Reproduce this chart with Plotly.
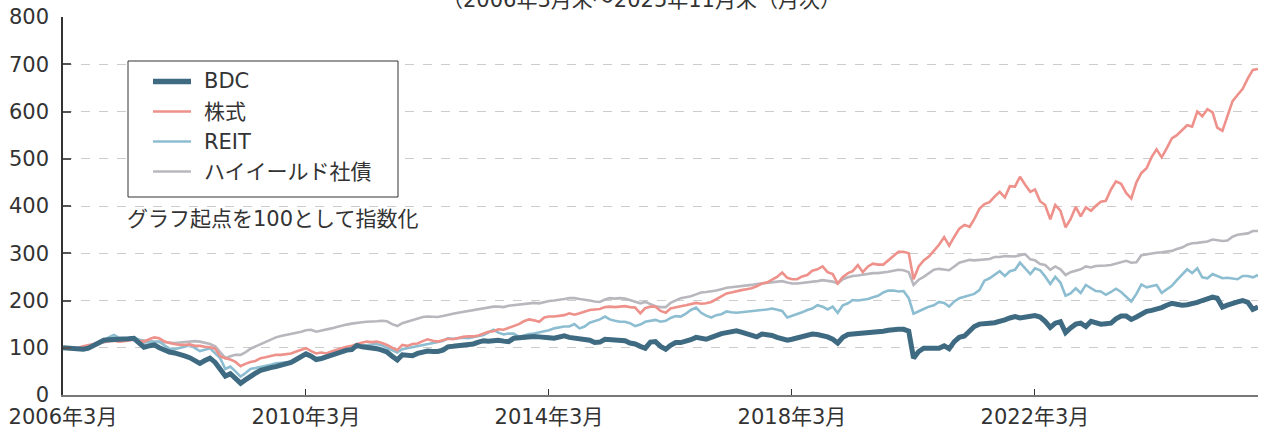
import pandas as pd
import plotly.graph_objects as go

dates = pd.date_range("2006-03-01", periods=237, freq="MS")

bdc = [
    100, 99, 98, 97, 97, 99, 104, 110, 116, 117, 117, 118,
    119, 119, 120, 110, 101, 104, 106, 100, 94, 91, 89, 87,
    83, 79, 74, 67, 73, 78, 69, 55, 40, 45, 35, 25,
    32, 40, 46, 52, 56, 58, 60, 63, 66, 69, 75, 82,
    87, 82, 75, 77, 81, 85, 88, 92, 95, 96, 105, 102,
    101, 100, 98, 95, 91, 82, 74, 85, 84, 83, 88, 92,
    93, 92, 92, 95, 102, 103, 104, 106, 107, 108, 112, 115,
    114, 116, 116, 114, 113, 120, 121, 123, 125, 124, 123, 123,
    121, 120, 123, 125, 122, 120, 119, 117, 116, 111, 112, 118,
    117, 117, 116, 115, 110, 108, 103, 99, 112, 113, 103, 97,
    105, 111, 111, 113, 117, 122, 121, 118, 122, 127, 130, 132,
    134, 136, 133, 130, 126, 123, 129, 128, 126, 122, 119, 116,
    118, 121, 123, 126, 129, 128, 126, 123, 118, 110, 122, 128,
    129, 130, 131, 130, 131, 133, 135, 137, 139, 139, 139, 135,
    78, 92, 99, 99, 99, 99, 104, 98, 113, 122, 125, 136,
    145, 150, 152, 152, 153, 155, 159, 163, 166, 163, 164, 166,
    168, 165, 156, 143, 152, 155, 132, 142, 150, 152, 145, 156,
    153, 150, 151, 152, 161, 167, 167, 160, 165, 172, 177, 179,
    181, 185, 190, 194, 192, 190, 191, 193, 196, 200, 203, 207,
    205, 186, 190, 195, 197, 200, 196, 181, 186,
]

stocks = [
    100, 101, 99, 100, 103, 105, 108, 111, 113, 114, 115, 113,
    114, 116, 117, 114, 113, 118, 122, 120, 113, 110, 108, 106,
    106, 107, 104, 104, 102, 101, 98, 82, 78, 75, 70, 61,
    66, 70, 72, 78, 80, 82, 85, 85, 87, 88, 92, 96,
    99, 93, 88, 90, 88, 92, 96, 99, 102, 104, 108, 110,
    113, 112, 113, 110, 106, 100, 95, 106, 104, 108, 109, 114,
    118, 115, 113, 116, 119, 118, 121, 123, 124, 124, 126, 131,
    134, 135, 139, 138, 142, 146, 150, 156, 160, 158, 155, 164,
    166, 166, 168, 169, 173, 170, 173, 176, 180, 181, 182, 186,
    187, 186, 187, 188, 186, 185, 173, 184, 187, 187, 178, 174,
    183, 186, 188, 190, 193, 195, 193, 194, 197, 203, 208, 215,
    217, 220, 222, 224, 226, 230, 236, 238, 245, 250, 259, 248,
    245, 245, 251, 254, 263, 266, 272, 260, 256, 236, 250, 258,
    262, 275, 260, 272, 278, 276, 276, 285, 293, 303, 303, 300,
    245, 272, 285, 293, 305, 318, 334, 316, 335, 352, 360, 356,
    372, 394, 404, 408, 420, 430, 418, 442, 441, 462, 445, 430,
    435, 410, 402, 372, 402, 390, 355, 372, 398, 378, 397, 390,
    400, 409, 411, 435, 452, 447, 427, 416, 450, 470, 480, 504,
    520, 503, 522, 543, 550, 560, 571, 568, 600, 590, 605, 598,
    566, 559, 590, 622, 635, 648, 670, 688, 690,
]

reit = [
    100, 99, 98, 97, 98, 99, 104, 108, 115, 122, 127, 121,
    120, 121, 122, 117, 111, 112, 113, 113, 105, 98, 97, 99,
    102, 106, 100, 93, 96, 99, 88, 78, 55, 60, 50, 39,
    46, 55, 57, 59, 62, 64, 67, 68, 69, 70, 77, 82,
    88, 83, 78, 80, 83, 86, 90, 94, 97, 99, 103, 104,
    106, 107, 108, 105, 100, 95, 90, 97, 99, 102, 104, 106,
    108, 110, 112, 114, 120, 119, 120, 121, 120, 122, 125, 127,
    132, 138, 132, 128, 130, 130, 123, 126, 129, 130, 132, 134,
    137, 141, 143, 145, 145, 150, 141, 145, 153, 156, 160, 166,
    160, 157, 155, 155, 152, 146, 149, 155, 157, 159, 155, 157,
    163, 167, 166, 172, 180, 185, 174, 168, 164, 169, 171, 177,
    175, 174, 175, 176, 178, 178, 180, 181, 183, 181, 178, 164,
    167, 171, 175, 180, 183, 190, 187, 181, 187, 174, 190, 194,
    201, 200, 201, 203, 207, 210, 217, 221, 221, 219, 220, 205,
    172, 178, 182, 187, 190, 197, 195, 187, 198, 205, 208, 210,
    214, 222, 242, 247, 255, 262, 252, 262, 265, 280, 268, 256,
    268, 264, 251, 235, 250, 238, 210, 215, 226, 216, 233, 226,
    220, 219, 212, 218, 225, 218, 207, 198, 214, 234, 228, 230,
    233, 216, 224, 231, 243, 254, 266, 258, 268, 249, 247, 256,
    251, 247, 248, 247, 245, 252, 252, 249, 254,
]

high_yield = [
    100, 99, 98, 98, 100, 102, 105, 109, 112, 114, 115, 116,
    117, 118, 119, 117, 115, 114, 113, 113, 112, 111, 110, 111,
    112, 114, 114, 113, 110, 108, 103, 90, 78, 82, 85, 85,
    90, 98, 103, 107, 112, 117, 122, 125, 127, 129, 131, 134,
    137, 138, 134, 136, 138, 141, 144, 147, 149, 151, 153, 154,
    155, 155, 156, 157, 156, 150, 146, 152, 155, 159, 162, 165,
    166, 166, 165, 167, 170, 172, 174, 176, 177, 180, 182, 183,
    185, 187, 187, 186, 189, 190, 192, 193, 194, 195, 194, 197,
    199, 200, 201, 203, 205, 205, 203, 202, 200, 198, 197, 202,
    205, 204, 205, 204, 201, 198, 194, 197, 193, 188, 186, 186,
    195, 200, 205, 207, 209, 213, 217, 218, 219, 221, 224, 227,
    228, 229, 231, 232, 233, 235, 236, 238, 239, 240, 241, 238,
    236, 236, 237, 239, 240, 241, 243, 242, 240, 236, 245, 249,
    252, 253, 255, 257, 258, 258, 259, 261, 263, 265, 264, 260,
    233, 244, 250, 257, 265, 267, 266, 264, 272, 280, 283, 286,
    285, 286, 287, 288, 292, 292, 294, 294, 293, 296, 298, 287,
    285, 277, 275, 265, 272, 266, 254, 260, 263, 266, 272, 270,
    273, 273, 274, 275, 278, 282, 284, 280, 281, 296, 298, 300,
    301, 302, 303, 305, 309, 312, 318, 321, 322, 324, 325, 329,
    328, 326, 327, 335, 339, 341, 342, 347, 347,
]

series_names = ["BDC", "株式", "REIT", "ハイイールド社債"]
series_colors = ["#3e6a82", "#ee918b", "#8cbdd0", "#b8b7bd"]
series_widths = [5, 2.6, 2.6, 2.6]
tick_dates = ["2006-03-01", "2010-03-01", "2014-03-01", "2018-03-01", "2022-03-01"]
tick_labels = ["2006年3月", "2010年3月", "2014年3月", "2018年3月", "2022年3月"]
y_ticks = [0, 100, 200, 300, 400, 500, 600, 700, 800]

FONT = "DejaVu Sans, Noto Sans CJK JP, sans-serif"
TXT = "#333333"

# plot area in pixels (figure is 1261x433)
L, R, T, B = 63, 3, 17, 38
PW, PH = 1261 - L - R, 433 - T - B


def px(xp):
    return (xp - L) / PW


def py(yp):
    return (433 - B - yp) / PH


fig = go.Figure()
values = [bdc, stocks, reit, high_yield]
for i in [3, 2, 1, 0]:
    fig.add_trace(go.Scatter(x=dates, y=values[i], name=series_names[i], mode="lines",
                             line=dict(color=series_colors[i], width=series_widths[i]),
                             showlegend=False))

shapes = [dict(type="rect", xref="paper", yref="paper",
               x0=px(128), x1=px(398), y0=py(197), y1=py(61),
               line=dict(color="#333333", width=1), fillcolor="white", layer="above")]
annotations = []
legend_rows = [81.5, 111.5, 141.5, 171.5]
for i, name in enumerate(series_names):
    yy = py(legend_rows[i])
    shapes.append(dict(type="line", xref="paper", yref="paper",
                       x0=px(153), x1=px(191), y0=yy, y1=yy, layer="above",
                       line=dict(color=series_colors[i], width=series_widths[i] + (0.5 if i == 0 else 0))))
    annotations.append(dict(text=name, xref="paper", yref="paper", x=px(202), y=yy,
                            xanchor="left", yanchor="middle", showarrow=False,
                            font=dict(size=21, color=TXT)))

annotations.append(dict(text="グラフ起点を100として指数化", xref="paper", yref="paper",
                        x=px(125), y=py(219), xanchor="left", yanchor="middle", showarrow=False,
                        font=dict(size=21, color=TXT)))
annotations.append(dict(text="（2006年3月末～2025年11月末（月次）", xref="paper", yref="paper",
                        x=px(641), y=py(0), xanchor="center", yanchor="middle",
                        showarrow=False, font=dict(size=21, color=TXT)))

fig.update_layout(
    width=1261, height=433,
    margin=dict(l=L, r=R, t=T, b=B, autoexpand=False),
    paper_bgcolor="white", plot_bgcolor="white",
    font=dict(family=FONT, size=21, color=TXT),
    showlegend=False,
    shapes=shapes,
    annotations=annotations,
)

fig.update_xaxes(
    type="date", range=["2006-03-01", "2025-11-01"],
    tickvals=tick_dates, ticktext=tick_labels,
    ticks="inside", ticklen=6, tickcolor="#333333", tickwidth=1,
    showline=True, linecolor="#777777", linewidth=2,
    showgrid=False, zeroline=False, ticklabelstandoff=2, automargin=False,
    tickfont=dict(size=21, color=TXT),
)
fig.update_yaxes(
    range=[0, 800], tickvals=y_ticks,
    ticks="inside", ticklen=8, tickcolor="#555555", tickwidth=1.5,
    showline=True, linecolor="#333333", linewidth=1.5,
    showgrid=True, gridcolor="#cccccc", gridwidth=1, griddash="dash",
    zeroline=False, ticklabelstandoff=8, automargin=False,
    tickfont=dict(size=21, color=TXT),
)

fig.write_html(
    "out.html",
    config={"displayModeBar": False},
    post_script="document.body.style.margin='0px';document.body.style.padding='0px';"
                "document.body.style.overflow='hidden';",
)
